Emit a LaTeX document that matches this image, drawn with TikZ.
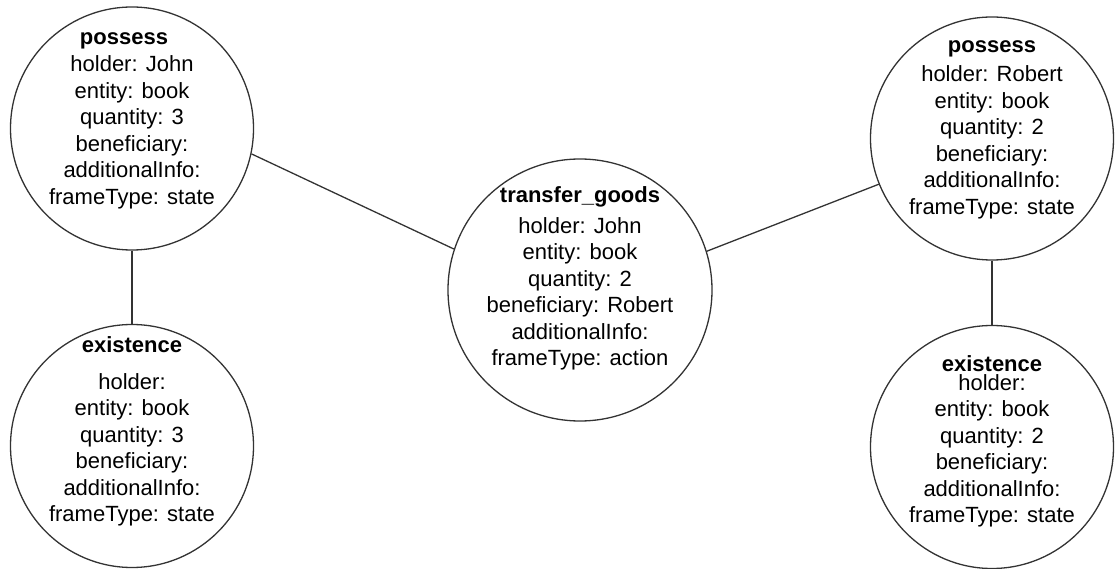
\documentclass[tikz,border=0pt]{standalone}
\usepackage{fontspec}
\setmainfont{Liberation Sans}
\usetikzlibrary{shapes.geometric}

\newcommand{\topstrut}{\rule{0pt}{24pt}}

\begin{document}
\begin{tikzpicture}[x=1pt, y=-1pt,
    framenode/.style={circle, draw=black!80, line width=1.3pt, minimum size=243pt,
        inner sep=0pt, align=center, font=\fontsize{22}{26.5}\selectfont},
    eventnode/.style={framenode, ellipse, minimum width=244pt, minimum height=262pt},
    ftitle/.style={anchor=base, inner sep=0pt, font=\fontsize{22}{26.5}\selectfont\bfseries},
    link/.style={draw=black!80, line width=1.3pt}]
    \useasboundingbox (0,0) rectangle (1120,569);

    % LEFT: John owns three books
    \node[framenode] (possJohn) at (132,128.5) {\topstrut holder: John\\entity: book\\quantity: 3\\beneficiary:\\additionalInfo:\\frameType: state};
    \node[ftitle] (possJohnT) at (124,45) {possess};

    \node[framenode] (existA) at (132,446) {\topstrut holder:\\entity: book\\quantity: 3\\beneficiary:\\additionalInfo:\\frameType: state};
    \node[ftitle] (existAT) at (132,353) {existence};

    % MIDDLE: the transfer
    \node[eventnode] (transfer) at (580,290) {\topstrut holder: John\\entity: book\\quantity: 2\\beneficiary: Robert\\additionalInfo:\\frameType: action};
    \node[ftitle] (transferT) at (580,203) {transfer\_goods};

    % RIGHT: Robert owns two books
    \node[framenode] (possRobert) at (992,138.5) {\topstrut holder: Robert\\entity: book\\quantity: 2\\beneficiary:\\additionalInfo:\\frameType: state};
    \node[ftitle] (possRobertT) at (992,53) {possess};

    \node[framenode] (existB) at (992,447) {\topstrut holder:\\entity: book\\quantity: 2\\beneficiary:\\additionalInfo:\\frameType: state};
    \node[ftitle] (existBT) at (992,372) {existence};

    % Links
    \draw[link] (possJohn.-12.8) -- (transfer.162.4);
    \draw[link] (transfer.17.7) -- (possRobert.-158.2);
    \draw[link] (possJohn.south) -- (existA.north);
    \draw[link] (possRobert.south) -- (existB.north);
\end{tikzpicture}
\end{document}
